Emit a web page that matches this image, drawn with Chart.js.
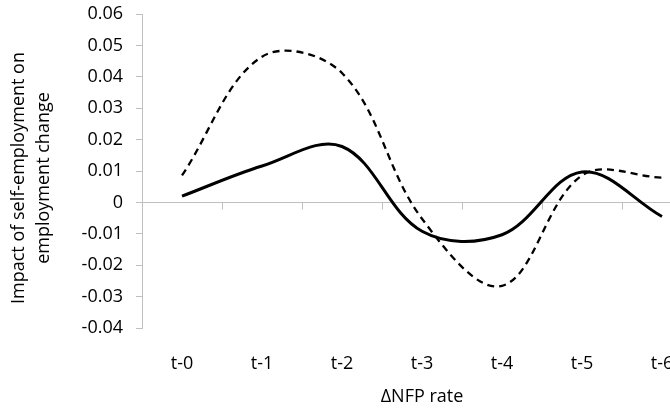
<!DOCTYPE html>
<html>
<head>
<meta charset="utf-8">
<script src="https://cdn.jsdelivr.net/npm/chart.js@4"></script>
<style>
  html, body { margin: 0; padding: 0; background: #fff; overflow: hidden; width: 670px; height: 410px; }
  #wrap { position: absolute; left: 0; top: 0; width: 712px; height: 410px; }
</style>
</head>
<body>
<div id="wrap"><canvas id="c"></canvas></div>
<script>
const categories = ['t-0', 't-1', 't-2', 't-3', 't-4', 't-5', 't-6'];
const solidSeries = [0.0020, 0.0116, 0.0178, -0.0092, -0.0103, 0.0097, -0.0045];
const dashedSeries = [0.0086, 0.0464, 0.0412, -0.0052, -0.0266, 0.0086, 0.0079];
const yTickMin = -0.04;
const yTickMax = 0.06;
const yTickStep = 0.01;
const xTitle = 'ΔNFP rate';
const yTitle = ['Impact of self-employment on   ', 'employment change   '];

const AXIS_GRAY = '#bfbfbf';
const FONT = 'Open Sans';

const zeroAxisPlugin = {
  id: 'zeroAxis',
  beforeDatasetsDraw(chart) {
    const { ctx, chartArea, scales } = chart;
    const y0 = Math.round(scales.y.getPixelForValue(0)) + 0.5;
    ctx.save();
    ctx.strokeStyle = AXIS_GRAY;
    ctx.lineWidth = 1;
    ctx.beginPath();
    ctx.moveTo(chartArea.left, y0);
    ctx.lineTo(chartArea.right, y0);
    for (let i = 1; i < categories.length; i++) {
      const xb = Math.round((scales.x.getPixelForValue(i - 1) + scales.x.getPixelForValue(i)) / 2) + 0.5;
      ctx.moveTo(xb, y0);
      ctx.lineTo(xb, y0 + 7);
    }
    ctx.stroke();
    ctx.restore();
  }
};

new Chart(document.getElementById('c'), {
  type: 'line',
  data: {
    labels: categories,
    datasets: [
      {
        label: 'solid',
        data: solidSeries,
        borderColor: '#000',
        borderWidth: 3,
        pointRadius: 0,
        tension: 0.36,
        fill: false
      },
      {
        label: 'dashed',
        data: dashedSeries,
        borderColor: '#000',
        borderWidth: 2.3,
        borderDash: [7, 5],
        pointRadius: 0,
        tension: 0.36,
        fill: false
      }
    ]
  },
  options: {
    responsive: true,
    maintainAspectRatio: false,
    animation: false,
    layout: { padding: { left: 0, right: 10, top: 14, bottom: 0 } },
    plugins: { legend: { display: false }, tooltip: { enabled: false } },
    scales: {
      x: {
        type: 'category',
        offset: true,
        grid: { display: false },
        border: { display: false },
        ticks: {
          color: '#000',
          font: { family: FONT, size: 18 },
          padding: 17,
          maxRotation: 0,
          autoSkip: false
        },
        title: {
          display: true,
          text: xTitle,
          color: '#000',
          font: { family: FONT, size: 18 },
          padding: { top: 4, bottom: 2 }
        },
        afterFit(scale) { scale.height = 82; scale.paddingLeft = 0; scale.paddingRight = 0; }
      },
      y: {
        min: yTickMin,
        max: yTickMax,
        grid: {
          display: true,
          drawOnChartArea: false,
          drawTicks: true,
          tickLength: 6,
          color: AXIS_GRAY,
          lineWidth: 1
        },
        border: { display: true, color: AXIS_GRAY, width: 1 },
        ticks: {
          stepSize: yTickStep,
          color: '#000',
          font: { family: FONT, size: 18 },
          padding: 13,
          callback: (v) => String(Number(Number(v).toFixed(2)))
        },
        title: {
          display: true,
          text: yTitle,
          color: '#000',
          font: { family: FONT, size: 18, lineHeight: 1.39 },
          padding: { top: 6, bottom: 0 }
        },
        afterFit(scale) { scale.width = 142; scale.paddingTop = 0; scale.paddingBottom = 0; }
      }
    }
  },
  plugins: [zeroAxisPlugin]
});
</script>
</body>
</html>
